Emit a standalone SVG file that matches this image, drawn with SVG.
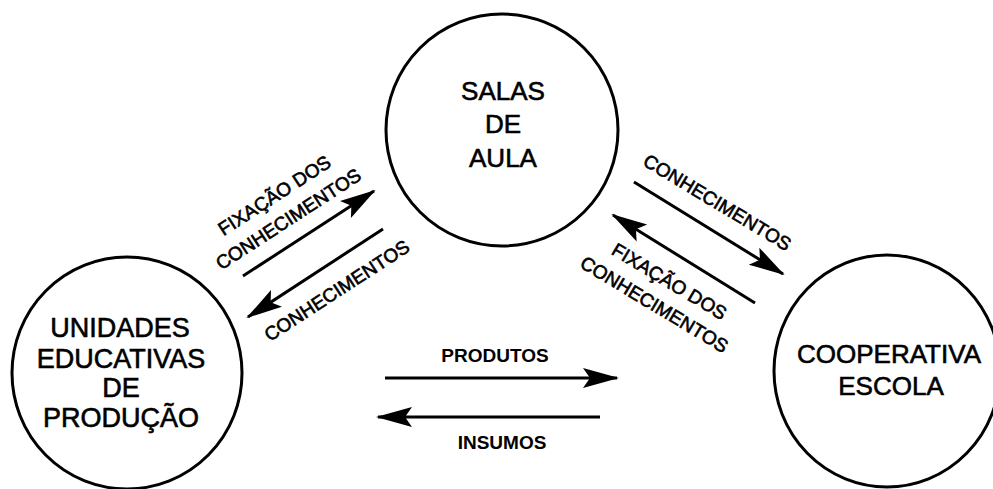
<svg xmlns="http://www.w3.org/2000/svg" width="993" height="489" viewBox="0 0 993 489">
<style>
.node{fill:#fff;stroke:#000;stroke-width:3}
.big{font-family:"Liberation Sans",Arial,sans-serif;font-size:26px;fill:#000;stroke:#000;stroke-width:0.6;text-anchor:middle}
.lbl{font-family:"Liberation Sans",Arial,sans-serif;font-size:19px;fill:#000;stroke:#000;stroke-width:0.6;text-anchor:middle}
.blbl{font-family:"Liberation Sans",Arial,sans-serif;font-size:19px;font-weight:bold;fill:#000;text-anchor:middle}
.edge{fill:none;stroke:#000;stroke-width:3;marker-end:url(#ah)}
</style>
<defs>
<marker id="ah" markerUnits="userSpaceOnUse" markerWidth="40" markerHeight="26" viewBox="-36 -13 40 26" refX="0" refY="0" orient="auto">
<path d="M2,0 L-34,-10 L-27,0 L-34,10 Z" fill="#000"/>
</marker>
</defs>
<rect width="993" height="489" fill="#fff"/>
<g id="salas">
<circle class="node" cx="502" cy="130" r="116"/>
<text class="big" x="503" y="100">SALAS</text>
<text class="big" x="503" y="133">DE</text>
<text class="big" x="503" y="167">AULA</text>
</g>
<g id="unidades">
<ellipse class="node" cx="127" cy="373" rx="115" ry="116"/>
<text class="big" x="120" y="337" style="font-size:27px">UNIDADES</text>
<text class="big" x="121" y="368" style="font-size:27px">EDUCATIVAS</text>
<text class="big" x="121" y="397" style="font-size:27px">DE</text>
<text class="big" x="121" y="427" style="font-size:27px">PRODUÇÃO</text>
</g>
<g id="cooperativa">
<ellipse class="node" cx="887" cy="371" rx="113" ry="116"/>
<text class="big" x="889" y="363">COOPERATIVA</text>
<text class="big" x="891" y="395">ESCOLA</text>
</g>
<g id="connectors">
<line class="edge" x1="243" y1="276" x2="374" y2="191"/>
<line class="edge" x1="383" y1="229" x2="248" y2="317"/>
<line class="edge" x1="634" y1="182" x2="783" y2="274"/>
<line class="edge" x1="755" y1="303" x2="613" y2="215"/>
<line class="edge" x1="385" y1="378" x2="617" y2="378"/>
<line class="edge" x1="600" y1="417" x2="378" y2="417"/>
<text class="lbl" transform="translate(278,201) rotate(-33)">FIXAÇÃO DOS</text>
<text class="lbl" transform="translate(292,224.5) rotate(-33)">CONHECIMENTOS</text>
<text class="lbl" transform="translate(340.5,296) rotate(-33)">CONHECIMENTOS</text>
<text class="lbl" transform="translate(714,208) rotate(31)">CONHECIMENTOS</text>
<text class="lbl" transform="translate(666,287) rotate(31)">FIXAÇÃO DOS</text>
<text class="lbl" transform="translate(651,310) rotate(31)">CONHECIMENTOS</text>
<text class="blbl" x="495" y="362">PRODUTOS</text>
<text class="blbl" x="502" y="449">INSUMOS</text>
</g>
</svg>
